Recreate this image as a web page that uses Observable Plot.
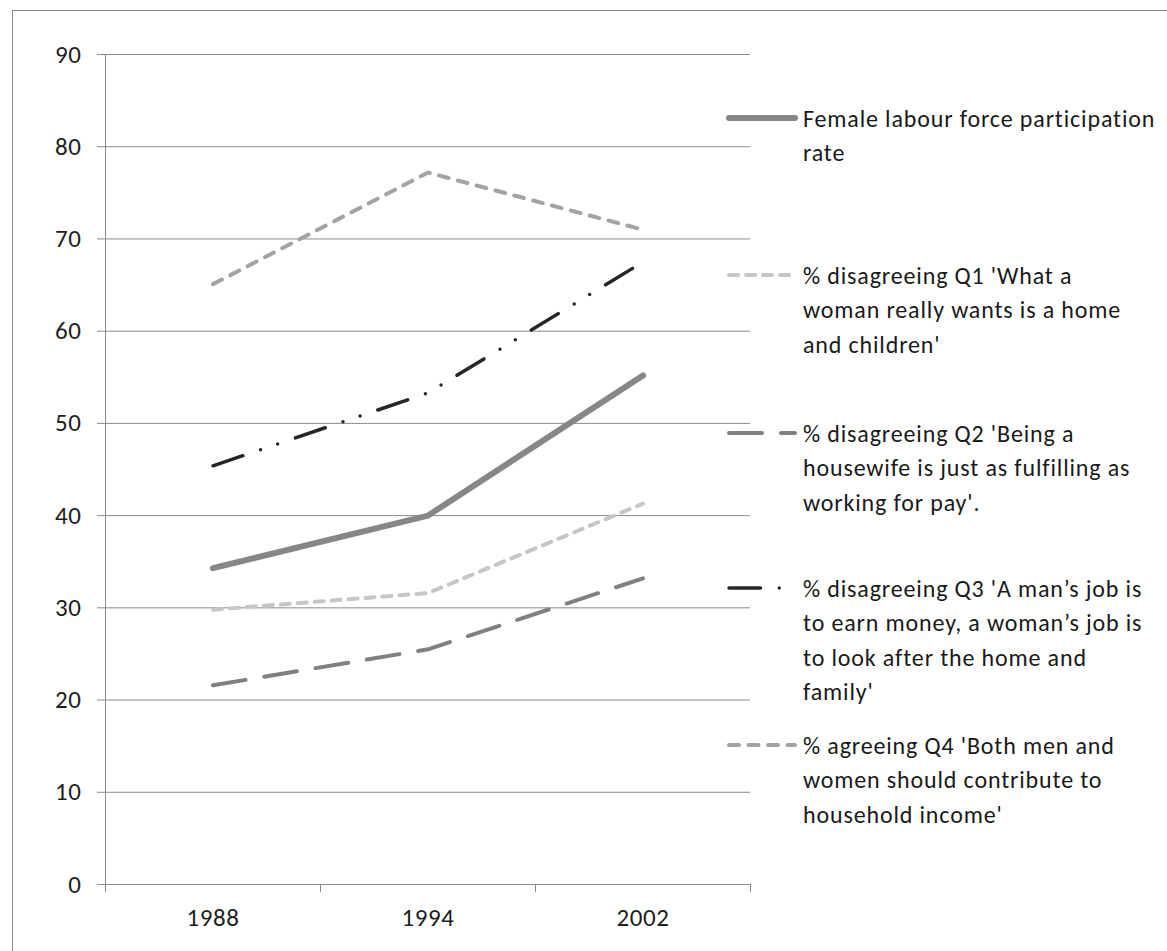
<!DOCTYPE html>
<html>
<head>
<meta charset="utf-8">
<script src="https://cdn.jsdelivr.net/npm/d3@7"></script>
<script src="https://cdn.jsdelivr.net/npm/@observablehq/plot@0.6"></script>
<style>
  html, body { margin: 0; padding: 0; background: #fff; overflow: hidden; width: 1167px; height: 951px; }
  #frame { position: absolute; left: 12px; top: 10px; width: 2000px; height: 2000px; border-left: 1px solid #8a8a8a; border-top: 1px solid #8a8a8a; }
  #chart { position: absolute; left: 0; top: 0; }
  #chart svg text { font-size: 25px; letter-spacing: 0.6px; fill: #1e1e1e; }
  .leg { position: absolute; left: 803px; font-family: Carlito, Calibri, Lato, sans-serif; font-size: 24px; letter-spacing: 0.85px; line-height: 34.5px; color: #1a1a1a; white-space: nowrap; }
  .sample { position: absolute; left: 725px; width: 76px; height: 12px; }
</style>
</head>
<body>
<div id="frame"></div>
<div id="chart"></div>
<div id="legend"></div>
<script>
// ---- data ----
const years = ["1988", "1994", "2002"];
const labour = [34.3, 40.0, 55.2];
const q1 = [29.8, 31.6, 41.3];
const q2 = [21.6, 25.5, 33.2];
const q3 = [45.4, 53.3, 67.5];
const q4 = [65.1, 77.2, 71.0];
const yTicks = [0, 10, 20, 30, 40, 50, 60, 70, 80, 90];

const seriesNames = [
  "Female labour force participation\nrate",
  "% disagreeing Q1 'What a\nwoman really wants is a home\nand children'",
  "% disagreeing Q2 'Being a\nhousewife is just as fulfilling as\nworking for pay'.",
  "% disagreeing Q3 'A man\u2019s job is\nto earn money, a woman\u2019s job is\nto look after the home and\nfamily'",
  "% agreeing Q4 'Both men and\nwomen should contribute to\nhousehold income'"
];
const seriesValues = [labour, q1, q2, q3, q4];
const seriesStyle = [
  {stroke: "#878787", strokeWidth: 6, dash: null},
  {stroke: "#c6c6c6", strokeWidth: 4, dash: "9 8"},
  {stroke: "#808080", strokeWidth: 4, dash: "33 19"},
  {stroke: "#262626", strokeWidth: 3.5, dash: "31.5 18.75 0 18 0 18.75"},
  {stroke: "#a3a3a3", strokeWidth: 4, dash: "10 9.5"}
];

const font = "Carlito, Calibri, Lato, sans-serif";

const lineMarks = seriesValues.map((vals, s) =>
  Plot.line(vals, {
    x: (d, i) => i + 0.5,
    y: d => d,
    stroke: seriesStyle[s].stroke,
    strokeWidth: seriesStyle[s].strokeWidth,
    strokeDasharray: seriesStyle[s].dash,
    strokeLinecap: "round",
    strokeLinejoin: "round"
  })
);

const chart = Plot.plot({
  width: 1167,
  height: 951,
  marginLeft: 105,
  marginRight: 417,
  marginTop: 54,
  marginBottom: 67,
  x: {type: "linear", domain: [0, 3], axis: null},
  y: {domain: [0, 90], axis: null},
  style: {fontFamily: font, fontSize: "25px", color: "#1e1e1e", background: "transparent", overflow: "visible"},
  marks: [
    Plot.gridY(yTicks, {stroke: "#8a8a8a", strokeOpacity: 1, strokeWidth: 1}),
    Plot.axisY(yTicks, {tickSize: 8, tickPadding: 16, stroke: "#8a8a8a", fill: "#1e1e1e", label: null}),
    Plot.ruleX([0], {stroke: "#8a8a8a"}),
    Plot.axisX([0, 1, 2, 3], {tickSize: 8, tickFormat: () => "", stroke: "#8a8a8a", label: null}),
    Plot.axisX(years.map((d, i) => i + 0.5), {tickSize: 0, tickPadding: 24, tickFormat: v => years[Math.floor(v)], fill: "#1e1e1e", label: null}),
    ...lineMarks
  ]
});
document.getElementById("chart").appendChild(chart);

// ---- legend (HTML) ----
const legendY = [118, 275, 433, 588, 745];
const legend = document.getElementById("legend");
seriesNames.forEach((name, s) => {
  const st = seriesStyle[s];
  const svg = document.createElementNS("http://www.w3.org/2000/svg", "svg");
  svg.setAttribute("class", "sample");
  svg.setAttribute("width", 76);
  svg.setAttribute("height", 12);
  svg.style.top = (legendY[s] - 6) + "px";
  const ln = document.createElementNS("http://www.w3.org/2000/svg", "line");
  ln.setAttribute("x1", 4);
  ln.setAttribute("x2", 70);
  ln.setAttribute("y1", 6);
  ln.setAttribute("y2", 6);
  ln.setAttribute("stroke", st.stroke);
  ln.setAttribute("stroke-width", st.strokeWidth);
  ln.setAttribute("stroke-linecap", "round");
  if (st.dash) ln.setAttribute("stroke-dasharray", st.dash);
  svg.appendChild(ln);
  legend.appendChild(svg);
  const div = document.createElement("div");
  div.className = "leg";
  div.style.top = (legendY[s] - 17.25 + 1) + "px";
  name.split("\n").forEach((t, k) => {
    if (k) div.appendChild(document.createElement("br"));
    div.appendChild(document.createTextNode(t));
  });
  legend.appendChild(div);
});
</script>
</body>
</html>
